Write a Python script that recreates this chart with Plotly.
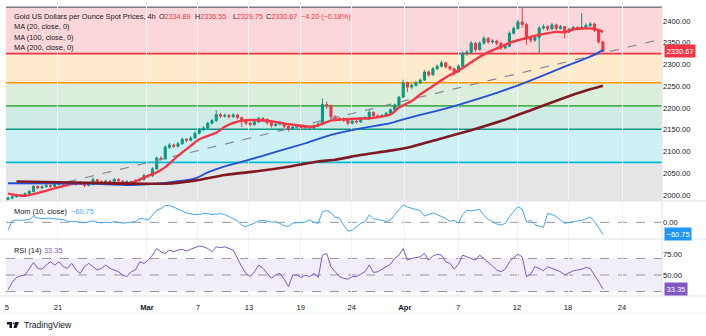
import plotly.graph_objects as go

# ---------------- data ----------------
tick_pos = [-0.24, 11.76, 32.7, 44.7, 56.7, 68.9, 80.9, 93.4, 105.9, 119.8, 131.8, 144.5]
tick_text = ["5", "21", "<b>Mar</b>", "7", "13", "19", "24", "<b>Apr</b>", "7", "12", "18", "24"]

first_open = 1990
closes = [1993, 1996, 2000, 1998, 2003, 2008, 2020, 2016, 2019, 2022,
          2020, 2024, 2027, 2025, 2029, 2026, 2025, 2028, 2022, 2024,
          2035, 2031, 2029, 2032, 2030, 2036, 2032, 2029, 2031, 2030,
          2033, 2035, 2045, 2044, 2060, 2085, 2083, 2110, 2115, 2112,
          2118, 2128, 2126, 2131, 2142, 2150, 2154, 2165, 2171, 2185,
          2181, 2183, 2180, 2184, 2178, 2170, 2165, 2162, 2168, 2176,
          2174, 2166, 2160, 2163, 2164, 2158, 2152, 2156, 2158, 2155,
          2157, 2154, 2159, 2163, 2208, 2205, 2180, 2176, 2175, 2172,
          2165, 2170, 2168, 2176, 2178, 2190, 2182, 2180, 2183, 2188,
          2196, 2207, 2225, 2258, 2248, 2252, 2258, 2264, 2283, 2276,
          2290, 2296, 2304, 2295, 2290, 2283, 2296, 2326, 2328, 2349,
          2334, 2349, 2360, 2352, 2354, 2349, 2338, 2342, 2372, 2383,
          2398, 2392, 2360, 2356, 2362, 2384, 2387, 2382, 2391, 2383,
          2387, 2375, 2380, 2385, 2383, 2386, 2390, 2393, 2379, 2352,
          2330.67]
highs = [1996, 1999, 2003, 2002, 2006, 2011, 2023, 2022, 2022, 2025,
         2024, 2027, 2030, 2029, 2032, 2031, 2028, 2031, 2029, 2027,
         2040, 2037, 2033, 2035, 2034, 2039, 2038, 2034, 2034, 2033,
         2036, 2038, 2049, 2048, 2064, 2088, 2089, 2114, 2119, 2118,
         2122, 2132, 2131, 2135, 2146, 2154, 2158, 2168, 2175, 2195,
         2189, 2187, 2186, 2188, 2187, 2180, 2173, 2168, 2172, 2180,
         2179, 2176, 2168, 2166, 2167, 2166, 2160, 2159, 2162, 2160,
         2161, 2159, 2162, 2167, 2222, 2215, 2208, 2183, 2179, 2178,
         2174, 2173, 2172, 2179, 2181, 2196, 2192, 2185, 2186, 2191,
         2199, 2210, 2228, 2265, 2261, 2256, 2262, 2268, 2287, 2286,
         2294, 2300, 2309, 2306, 2298, 2293, 2300, 2330, 2333, 2354,
         2352, 2353, 2365, 2363, 2358, 2357, 2351, 2346, 2376, 2388,
         2403, 2431, 2395, 2364, 2366, 2388, 2392, 2390, 2395, 2394,
         2391, 2389, 2384, 2389, 2388, 2418, 2395, 2398, 2396, 2382,
         2355]
lows = [1987, 1990, 1994, 1995, 1996, 2001, 2006, 2013, 2014, 2017,
        2017, 2018, 2022, 2022, 2023, 2023, 2021, 2023, 2018, 2020,
        2022, 2028, 2025, 2027, 2027, 2028, 2029, 2025, 2026, 2027,
        2028, 2031, 2033, 2040, 2042, 2058, 2079, 2081, 2106, 2108,
        2109, 2115, 2121, 2123, 2129, 2139, 2147, 2151, 2162, 2168,
        2177, 2178, 2176, 2177, 2174, 2156, 2161, 2158, 2159, 2165,
        2170, 2162, 2155, 2157, 2160, 2154, 2146, 2149, 2153, 2151,
        2152, 2150, 2152, 2156, 2160, 2198, 2176, 2172, 2171, 2168,
        2160, 2162, 2164, 2166, 2173, 2176, 2179, 2176, 2177, 2181,
        2186, 2194, 2205, 2223, 2237, 2244, 2249, 2255, 2262, 2272,
        2274, 2287, 2293, 2291, 2286, 2275, 2281, 2294, 2320, 2325,
        2330, 2332, 2346, 2348, 2348, 2344, 2333, 2335, 2340, 2369,
        2380, 2385, 2345, 2350, 2352, 2326, 2380, 2377, 2379, 2379,
        2380, 2360, 2372, 2377, 2379, 2380, 2382, 2386, 2375, 2348,
        2328]

ma20_idx = [0, 4, 15, 22, 29, 33, 35, 37, 40, 43, 45, 49, 51, 53, 56, 59, 63, 66, 71, 73, 76,
            83, 85, 90, 92, 95, 97, 99, 102, 104, 106, 109, 111, 113, 116, 118, 122, 125,
            129, 131, 133, 137, 139, 140]
ma20_val = [2003, 1998, 2025, 2027, 2028, 2044, 2052, 2064, 2090, 2113, 2128, 2143, 2157, 2166,
            2172, 2172, 2168, 2163, 2157, 2160, 2171, 2176, 2176, 2185, 2201, 2216, 2231, 2244,
            2264, 2276, 2286, 2305, 2318, 2328, 2341, 2350, 2361, 2368, 2375, 2374, 2381,
            2383, 2379, 2375]
ma100_idx = [0, 19, 29, 37, 44, 47, 51, 56, 63, 70, 76, 83, 90, 92, 97, 102, 106, 111, 115,
             120, 126, 132, 137, 140]
ma100_val = [2027, 2026, 2023, 2028, 2038, 2052, 2066, 2079, 2099, 2119, 2138, 2153, 2165,
             2171, 2184, 2196, 2207, 2222, 2235, 2252, 2275, 2299, 2318, 2333]
ma200_idx = [2, 19, 37, 44, 51, 59, 66, 73, 77, 83, 90, 95, 102, 109, 116, 123, 130, 136, 140]
ma200_val = [2031, 2028, 2026, 2033, 2046, 2055, 2065, 2077, 2081, 2092, 2102, 2111, 2130,
             2149, 2170, 2195, 2220, 2240, 2251]

trend_idx = [14, 154]
trend_val = [2030, 2359]

fib_levels = [2431.5, 2325, 2258, 2205, 2151, 2075, 1976.5]
fib_colors = ["#787b86", "#f23645", "#ff9800", "#4caf50", "#089981", "#00bcd4", "#787b86"]

mom = [-40, 8, 12, 10, 12, 14, 30, 22, 20, 22,
       21, 18, 16, 14, 6, 3, 4, 2, -2, 3,
       8, 0, -3, 1, -2, 4, -1, -4, -2, 0,
       4, 20, 18, 12, 40, 62, 70, 85, 87, 76,
       68, 58, 48, 44, 39, 40, 46, 44, 40, 42,
       44, 40, 30, 18, 8, -15, -22, -12, -5, 8,
       10, 6, 0, 3, -5, -18, -20, -4, -2, -3,
       2, 12, 0, -5, 55, 60, 50, 25, 21, -15,
       -45, -40, -20, -5, 3, 38, 18, 16, 10, 3,
       12, 38, 60, 90, 78, 72, 68, 60, 32, 40,
       48, 40, 30, 20, 5, 10, -3, 40, 62, 58,
       62, 66, 35, 15, 3, -8, -14, -5, 30, 55,
       80, 68, 2, 10, -12, -20, -25, 45, 40, 30,
       10, -5, 0, 3, 7, 10, 18, 28, 5, -30,
       -60.75]
rsi = [32, 41, 47, 49, 50, 58, 65, 58, 57, 62,
       66, 62, 66, 60, 58, 64, 56, 52, 60, 64,
       60, 56, 58, 62, 58, 56, 54, 50, 48, 54,
       56, 66, 64, 68, 74, 82, 78, 76, 80, 78,
       80, 81, 79, 81, 83, 85, 84, 82, 78, 84,
       83, 84, 82, 80, 70, 60, 52, 48, 54, 62,
       58, 52, 46, 50, 52, 45, 36, 50, 50, 47,
       50, 48, 52, 47, 74, 76, 60, 54, 48, 46,
       45, 48, 48, 51, 54, 62, 53, 54, 57, 60,
       63, 70, 74, 82, 68, 70, 71, 72, 76, 68,
       73, 75, 74, 66, 64, 57, 63, 74, 72, 70,
       68, 74, 70, 66, 61, 56, 54, 57, 66, 71,
       75, 72, 48, 51, 60, 58, 55, 60, 58, 56,
       54, 50, 53, 55, 56, 57, 59, 58, 50, 42,
       33.35]

price_ticks = [2000, 2050, 2100, 2150, 2200, 2250, 2300, 2350, 2400]
mom_ticks = [0]
rsi_ticks = [50, 75]
rsi_levels = [70, 50, 30]

last_ohlc = [2334.89, 2336.55, 2329.75, 2330.67]
last_change = -4.20
last_change_pct = -0.18
title = "Gold US Dollars per Ounce Spot Prices, 4h"
ma_labels = ["MA (20, close, 0)", "MA (100, close, 0)", "MA (200, close, 0)"]

# ---------------- layout helpers ----------------
W, H = 706, 336
ML, MR, MT, MB = 6, 44, 0, 40
PW, PH = W - ML - MR, H - MT - MB


def px(sx):
    return (sx - ML) / PW


def py(sy):
    return (PH - (sy - MT)) / PH


FONT = "Liberation Sans, Arial, sans-serif"
TXT = "#131722"
RED = "#f23645"
GREEN = "#089981"
MOMC = "#42a5f5"
MOMBOX = "#2196f3"
RSIC = "#7e57c2"

idx = list(range(len(closes)))
opens = [first_open] + closes[:-1]

fig = go.Figure()

fig.add_trace(go.Candlestick(
    x=idx, open=opens, high=highs, low=lows, close=closes,
    xaxis="x", yaxis="y", whiskerwidth=0,
    increasing=dict(line=dict(color=GREEN, width=1), fillcolor=GREEN),
    decreasing=dict(line=dict(color=RED, width=1), fillcolor=RED),
    hoverinfo="skip"))

fig.add_trace(go.Scatter(x=trend_idx, y=trend_val, mode="lines", xaxis="x", yaxis="y",
                         line=dict(color="#868993", width=1.2, dash="dash"), hoverinfo="skip"))
fig.add_trace(go.Scatter(x=ma20_idx, y=ma20_val, mode="lines", xaxis="x", yaxis="y",
                         line=dict(color=RED, width=2.4, shape="spline", smoothing=0.6), hoverinfo="skip"))
fig.add_trace(go.Scatter(x=ma100_idx, y=ma100_val, mode="lines", xaxis="x", yaxis="y",
                         line=dict(color="#2450d8", width=1.8, shape="spline", smoothing=0.6), hoverinfo="skip"))
fig.add_trace(go.Scatter(x=ma200_idx, y=ma200_val, mode="lines", xaxis="x", yaxis="y",
                         line=dict(color="#801922", width=2.6, shape="spline", smoothing=0.6), hoverinfo="skip"))

fig.add_trace(go.Scatter(x=idx, y=mom, mode="lines", xaxis="x", yaxis="y2",
                         line=dict(color=MOMC, width=1), hoverinfo="skip"))
fig.add_trace(go.Scatter(x=idx, y=rsi, mode="lines", xaxis="x", yaxis="y3",
                         line=dict(color=RSIC, width=1), hoverinfo="skip"))

shapes = []
# fib zones
for k in range(len(fib_levels) - 1):
    c = fib_colors[k + 1].lstrip("#")
    r, g, b = int(c[0:2], 16), int(c[2:4], 16), int(c[4:6], 16)
    shapes.append(dict(type="rect", xref="x domain", yref="y", x0=0, x1=1,
                       y0=fib_levels[k + 1], y1=fib_levels[k],
                       fillcolor=f"rgba({r},{g},{b},0.2)", line=dict(width=0), layer="below"))
for lv, col in zip(fib_levels, fib_colors):
    shapes.append(dict(type="line", xref="x domain", yref="y", x0=0, x1=1, y0=lv, y1=lv,
                       line=dict(color=col, width=1.6), layer="below"))
# momentum zero line
for v in mom_ticks:
    shapes.append(dict(type="line", xref="x domain", yref="y2", x0=0, x1=1, y0=v, y1=v,
                       line=dict(color="#9598a1", width=1, dash="dash"), layer="below"))
# rsi band
shapes.append(dict(type="rect", xref="x domain", yref="y3", x0=0, x1=1,
                   y0=rsi_levels[2], y1=rsi_levels[0],
                   fillcolor="rgba(126,87,194,0.1)", line=dict(width=0), layer="below"))
for v in rsi_levels:
    shapes.append(dict(type="line", xref="x domain", yref="y3", x0=0, x1=1, y0=v, y1=v,
                       line=dict(color="#9598a1", width=1, dash="dash"), layer="below"))
# panel separators
for sy in [201, 239, 296]:
    shapes.append(dict(type="line", xref="paper", yref="paper", x0=px(0), x1=px(706),
                       y0=py(sy), y1=py(sy), line=dict(color="#e0e3eb", width=1)))
shapes.append(dict(type="line", xref="paper", yref="paper", x0=1, x1=1, y0=0, y1=py(7),
                   line=dict(color="#e0e3eb", width=1)))
shapes.append(dict(type="line", xref="paper", yref="paper", x0=px(0), x1=px(706),
                   y0=py(313), y1=py(313), line=dict(color="#eceef2", width=1)))


# TradingView logo (small)
def P(sx, sy):
    return f"{px(sx):.5f},{py(sy):.5f}"


logo1 = f"M{P(7,322)} L{P(12,322)} L{P(12,328)} L{P(9.5,328)} L{P(9.5,324.5)} L{P(7,324.5)} Z"
logo2 = f"M{P(15,322)} L{P(19,322)} L{P(16.5,328)} L{P(13.5,328)} Z"
shapes.append(dict(type="path", xref="paper", yref="paper", path=logo1,
                   fillcolor=TXT, line=dict(width=0)))
shapes.append(dict(type="path", xref="paper", yref="paper", path=logo2,
                   fillcolor=TXT, line=dict(width=0)))
shapes.append(dict(type="circle", xref="paper", yref="paper", x0=px(12.6), x1=px(14.4),
                   y0=py(324.2), y1=py(322.4), fillcolor=TXT, line=dict(width=0)))

FS = 7.2
ann = []


def note(sx, sy, text, color=TXT, size=FS, anchor="left"):
    ann.append(dict(xref="paper", yref="paper", x=px(sx), y=py(sy), text=text,
                    showarrow=False, xanchor=anchor, yanchor="middle",
                    font=dict(family=FONT, size=size, color=color)))


def red(v):
    return f"<span style='color:{RED}'>{v}</span>"


note(12, 16, title, size=7.4)
note(157, 16, "O" + red(f"{last_ohlc[0]:.2f}"))
note(193, 16, "H" + red(f"{last_ohlc[1]:.2f}"))
note(231, 16, "L" + red(f"{last_ohlc[2]:.2f}"))
note(264, 16, "C" + red(f"{last_ohlc[3]:.2f}"))
note(299, 16, red(f"\u2212{abs(last_change):.2f} (\u2212{abs(last_change_pct):.2f}%)"))
for t, sy in zip(ma_labels, [26.8, 37.3, 47.8]):
    note(12, sy, t, size=7.4)
note(12, 211.5, "Mom (10, close)", size=7.4)
note(69, 211.5, f"{mom[-1]:.2f}".replace("-", "\u2212"), color=MOMC, size=7.4)
note(12, 250, "RSI (14)", size=7.4)
note(42, 250, f"{rsi[-1]:.2f}", color=RSIC, size=7.4)
note(22, 325.5, "TradingView", size=8.6)


def box(yref, val, bg, text):
    ann.append(dict(xref="paper", yref=yref, x=1, y=val, xshift=2, text=text, showarrow=False,
                    xanchor="left", yanchor="middle", bgcolor=bg, borderpad=1.5,
                    font=dict(family=FONT, size=FS + 0.3, color="white")))


box("y", closes[-1], RED, f"{closes[-1]:.2f}")
box("y2", mom[-1], MOMBOX, f"{mom[-1]:.2f}".replace("-", "\u2212"))
box("y3", rsi[-1], RSIC, f"{rsi[-1]:.2f}")

axfont = dict(family=FONT, size=7.6, color=TXT)
fig.update_layout(
    width=W, height=H, margin=dict(l=ML, r=MR, t=MT, b=MB),
    paper_bgcolor="white", plot_bgcolor="white", showlegend=False, hovermode=False,
    xaxis=dict(domain=[0, 1], anchor="y3", range=[-0.47, 153.9], tickvals=tick_pos,
               ticktext=tick_text, showgrid=True, gridcolor="#f0f3fa", gridwidth=1,
               zeroline=False, ticks="", tickfont=axfont, rangeslider=dict(visible=False),
               showline=False, ticklabelstandoff=5),
    yaxis=dict(domain=[py(201), 1], anchor="x", side="right", range=[1986.2, 2448.3],
               tickvals=price_ticks, ticktext=[f"{v:.2f}" for v in price_ticks],
               showgrid=False, zeroline=False, ticks="", tickfont=axfont),
    yaxis2=dict(domain=[py(239), py(201)], anchor="x", side="right", range=[-85, 109],
                tickvals=mom_ticks, ticktext=[f"{v:.2f}" for v in mom_ticks],
                showgrid=False, zeroline=False, ticks="", tickfont=axfont),
    yaxis3=dict(domain=[0, py(239)], anchor="x", side="right", range=[24.6, 93.5],
                tickvals=rsi_ticks, ticktext=[f"{v:.2f}" for v in rsi_ticks],
                showgrid=False, zeroline=False, ticks="", tickfont=axfont),
    shapes=shapes, annotations=ann,
)

fig.write_html("out.html")
